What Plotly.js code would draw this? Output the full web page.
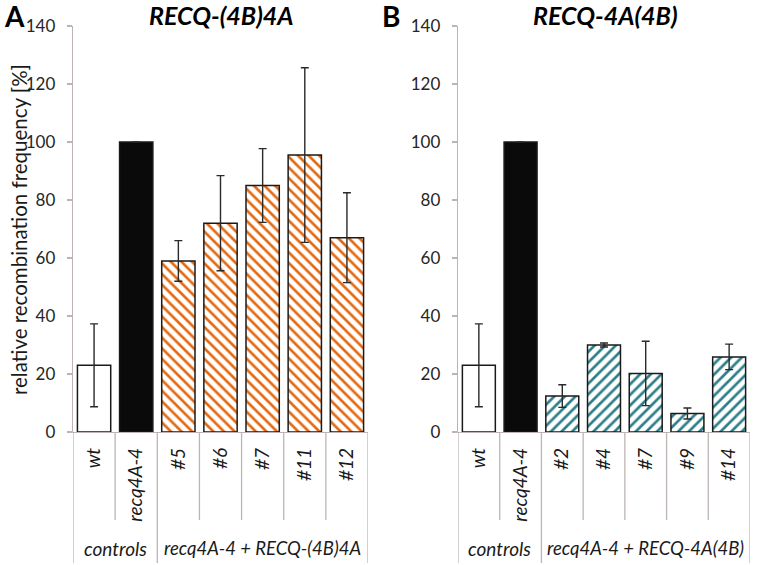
<!DOCTYPE html>
<html>
<head>
<meta charset="utf-8">
<script src="https://cdn.plot.ly/plotly-3.0.1.min.js"></script>
<style>html,body{margin:0;padding:0;background:#fff;}#chart{width:760px;height:565px;}</style>
</head>
<body>
<div id="chart"></div>
<script>
// ---- data ----
var categoriesA = ["wt", "recq4A-4", "#5", "#6", "#7", "#11", "#12"];
var valuesA = [23, 100, 59, 72, 85, 95.5, 67];
var sdA = [14.3, null, 7, 16.4, 12.7, 30.1, 15.5];

var categoriesB = ["wt", "recq4A-4", "#2", "#4", "#7", "#9", "#14"];
var valuesB = [23, 100, 12.4, 30, 20.2, 6.4, 25.9];
var sdB = [14.3, null, 3.9, 0.7, 11.1, 1.9, 4.4];

var groupLabels = ["controls", "recq4A-4 + RECQ-(4B)4A", "recq4A-4 + RECQ-4A(4B)"];
var panelTitles = ["RECQ-(4B)4A", "RECQ-4A(4B)"];
var panelLetters = ["A", "B"];
var yTitle = "relative recombination frequency [%]";

// ---- styling helpers ----
var FONT = "Lato, 'Open Sans', sans-serif";
var ORANGE = "#E46A12";
var TEAL = "#2E7F88";
var GRID = "#BDB5B3";

function barStyle(n, mainColor, shape) {
  var bg = [], fg = [], sh = [];
  for (var i = 0; i < n; i++) {
    if (i === 0) { bg.push("#ffffff"); fg.push("#ffffff"); sh.push(""); }
    else if (i === 1) { bg.push("#0a0a0a"); fg.push("#0a0a0a"); sh.push(""); }
    else { bg.push(mainColor); fg.push("#ffffff"); sh.push(shape); }
  }
  return {bg: bg, fg: fg, sh: sh};
}

function makeTrace(cats, vals, sd, color, shape, xa, ya) {
  var st = barStyle(cats.length, color, shape);
  return {
    type: "bar", x: cats, y: vals, xaxis: xa, yaxis: ya,
    width: 0.79,
    marker: {
      color: st.bg,
      line: {color: "#1a1a1a", width: 1.5},
      pattern: {shape: st.sh, fgcolor: st.fg, bgcolor: st.bg, size: 7.5, solidity: 0.36, fillmode: "replace"}
    },
    error_y: {type: "data", array: sd, symmetric: true, color: "#2a2a2a", thickness: 1.4, width: 4, visible: true},
    hoverinfo: "x+y", showlegend: false
  };
}

var traces = [
  makeTrace(categoriesA, valuesA, sdA, ORANGE, "\\", "x", "y"),
  makeTrace(categoriesB, valuesB, sdB, TEAL, "/", "x2", "y2")
];

var W = 760, H = 565;
function px(x) { return x / W; }
function py(y) { return (H - y) / H; }

var yDom = [py(432), py(26)];

function yAxis(anchor) {
  return {
    domain: yDom, anchor: anchor, range: [0, 140], dtick: 20, tick0: 0,
    showgrid: false, zeroline: false, showline: true, linecolor: GRID, linewidth: 1.3,
    ticks: "outside", ticklen: 5, tickcolor: GRID, tickwidth: 1.3,
    tickfont: {family: FONT, size: 17, color: "#262626"}, ticklabelstandoff: 8, fixedrange: true
  };
}
function xAxis(anchor, dom, cats) {
  return {
    domain: dom, anchor: anchor, type: "category", categoryorder: "array", categoryarray: cats,
    range: [-0.5, cats.length - 0.5],
    showgrid: false, zeroline: false, showline: true, linecolor: GRID, linewidth: 1.3,
    ticks: "", tickangle: -90, ticklabelstandoff: 7,
    tickfont: {family: FONT, size: 19, color: "#1a1a1a", style: "italic"}, fixedrange: true
  };
}

var shapes = [];
function tableLines(xref, n) {
  for (var k = -1; k < n; k++) {
    var edge = (k === -1 || k === 1 || k === n - 1);
    shapes.push({type: "line", xref: xref, yref: "paper",
      x0: k + 0.5, x1: k + 0.5, y0: py(432), y1: edge ? py(563) : py(520),
      line: {color: GRID, width: 1.3}});
  }
}
tableLines("x", categoriesA.length);
tableLines("x2", categoriesB.length);

var annotations = [
  {text: "<b>" + panelLetters[0] + "</b>", xref: "paper", yref: "paper", x: px(2), y: py(-3), xanchor: "left", yanchor: "top", showarrow: false, font: {family: FONT, size: 28, color: "#000"}},
  {text: "<b>" + panelLetters[1] + "</b>", xref: "paper", yref: "paper", x: px(380), y: py(-3), xanchor: "left", yanchor: "top", showarrow: false, font: {family: FONT, size: 28, color: "#000"}},
  {text: "<b><i>" + panelTitles[0] + "</i></b>", xref: "paper", yref: "paper", x: px(221), y: py(15), xanchor: "center", yanchor: "middle", showarrow: false, font: {family: FONT, size: 25, color: "#000"}},
  {text: "<b><i>" + panelTitles[1] + "</i></b>", xref: "paper", yref: "paper", x: px(605), y: py(15), xanchor: "center", yanchor: "middle", showarrow: false, font: {family: FONT, size: 25, color: "#000"}},
  {text: yTitle, xref: "paper", yref: "paper", x: px(19), y: py(230), xanchor: "center", yanchor: "middle", textangle: -90, showarrow: false, font: {family: FONT, size: 20.5, color: "#1a1a1a"}},
  {text: "<i>" + groupLabels[0] + "</i>", xref: "x", yref: "paper", x: 0.5, y: py(548), xanchor: "center", yanchor: "middle", showarrow: false, font: {family: FONT, size: 19, color: "#1a1a1a"}},
  {text: "<i>" + groupLabels[1] + "</i>", xref: "x", yref: "paper", x: 4, y: py(548), xanchor: "center", yanchor: "middle", showarrow: false, font: {family: FONT, size: 18.5, color: "#1a1a1a"}},
  {text: "<i>" + groupLabels[0] + "</i>", xref: "x2", yref: "paper", x: 0.5, y: py(548), xanchor: "center", yanchor: "middle", showarrow: false, font: {family: FONT, size: 19, color: "#1a1a1a"}},
  {text: "<i>" + groupLabels[2] + "</i>", xref: "x2", yref: "paper", x: 4, y: py(548), xanchor: "center", yanchor: "middle", showarrow: false, font: {family: FONT, size: 18.5, color: "#1a1a1a"}}
];

var layout = {
  width: W, height: H, margin: {l: 0, r: 0, t: 0, b: 0},
  paper_bgcolor: "#ffffff", plot_bgcolor: "rgba(0,0,0,0)",
  barmode: "overlay", showlegend: false,
  font: {family: FONT},
  xaxis: xAxis("y", [px(73), px(368)], categoriesA),
  yaxis: yAxis("x"),
  xaxis2: xAxis("y2", [px(458), px(750)], categoriesB),
  yaxis2: yAxis("x2"),
  shapes: shapes,
  annotations: annotations
};

Plotly.newPlot("chart", traces, layout, {displayModeBar: false, staticPlot: true});
</script>
</body>
</html>
